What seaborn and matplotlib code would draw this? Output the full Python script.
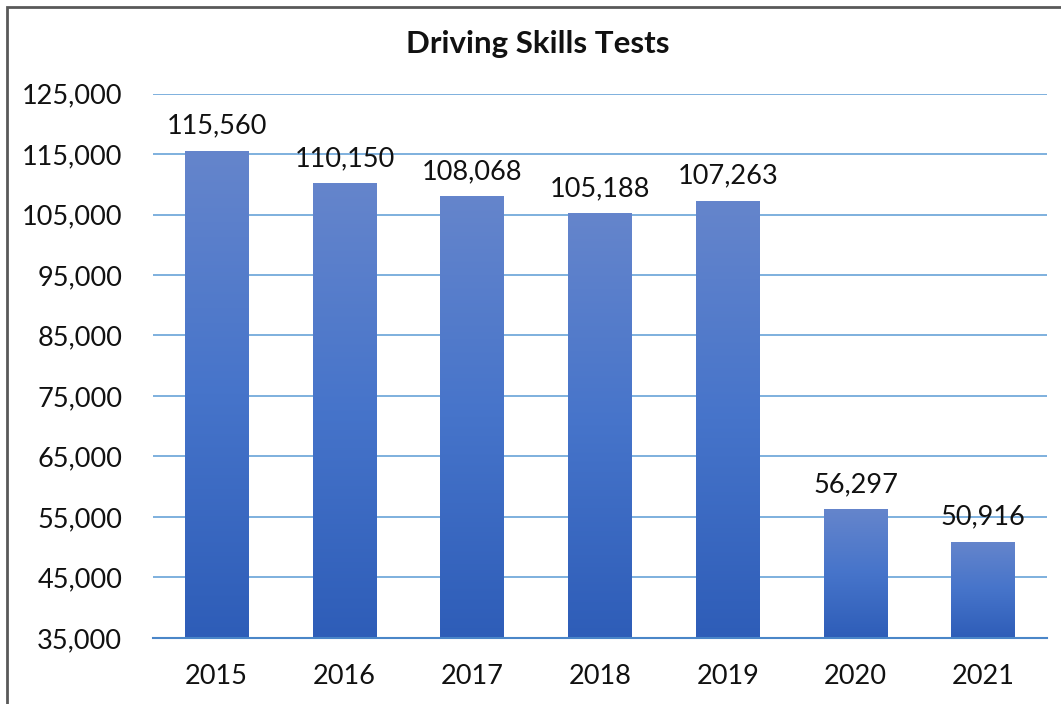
import numpy as np
import pandas as pd
import seaborn as sns
import matplotlib.pyplot as plt
from matplotlib.colors import LinearSegmentedColormap
from matplotlib.patches import Rectangle

years = ['2015', '2016', '2017', '2018', '2019', '2020', '2021']
tests = [115560, 110150, 108068, 105188, 107263, 56297, 50916]

df = pd.DataFrame({'year': years, 'tests': tests})

sns.set_style('white')
plt.rcParams['font.family'] = ['Lato', 'DejaVu Sans']

fig = plt.figure(figsize=(10.61, 7.04), dpi=100)
ax = fig.add_axes([0.144, 0.094, 0.843, 0.773])

sns.barplot(data=df, x='year', y='tests', color='#4472C4', width=0.5, ax=ax, zorder=2)

ax.set_ylim(35000, 125000)
ax.set_yticks(range(35000, 125001, 10000))
ax.set_yticklabels([f'{v:,}' for v in range(35000, 125001, 10000)])
ax.yaxis.grid(True, color='#5B9BD5', linewidth=1.1, zorder=0)
ax.set_axisbelow(True)

# gradient fill on the bars
cmap = LinearSegmentedColormap.from_list('bar', ['#2E5DB8', '#4674CA', '#6585CC'])
grad = np.linspace(0, 1, 256).reshape(-1, 1)
for bar in ax.patches:
    x0, y0 = bar.get_x(), bar.get_y()
    w, h = bar.get_width(), bar.get_height()
    bar.set_facecolor('none')
    bar.set_edgecolor('none')
    im = ax.imshow(grad, cmap=cmap, origin='lower', aspect='auto',
                   extent=[x0, x0 + w, 35000, y0 + h], zorder=2)
    im.set_clip_path(bar)
    ax.text(x0 + w / 2, y0 + h + 2000, f'{int(h):,}', ha='center', va='bottom',
            fontsize=19.5, color='#111111')

ax.set_xlim(-0.5, 6.5)
for s in ['top', 'right', 'left']:
    ax.spines[s].set_visible(False)
ax.spines['bottom'].set_color('#4A86C8')
ax.spines['bottom'].set_linewidth(1.5)
ax.tick_params(axis='both', labelsize=19.5, length=0, colors='#111111')
ax.tick_params(axis='y', pad=22)
ax.tick_params(axis='x', pad=19)
ax.set_xlabel('')
ax.set_ylabel('')

fig.text(0.507, 0.937, 'Driving Skills Tests', ha='center', va='center',
         fontsize=22.5, fontweight='bold', color='#111111')

fig.patches.append(Rectangle((7 / 1061, -0.05), 1.2, 1 - 7 / 704 + 0.05,
                             transform=fig.transFigure, fill=False,
                             edgecolor='#595959', linewidth=2))

fig.savefig('out.png', dpi=100)
